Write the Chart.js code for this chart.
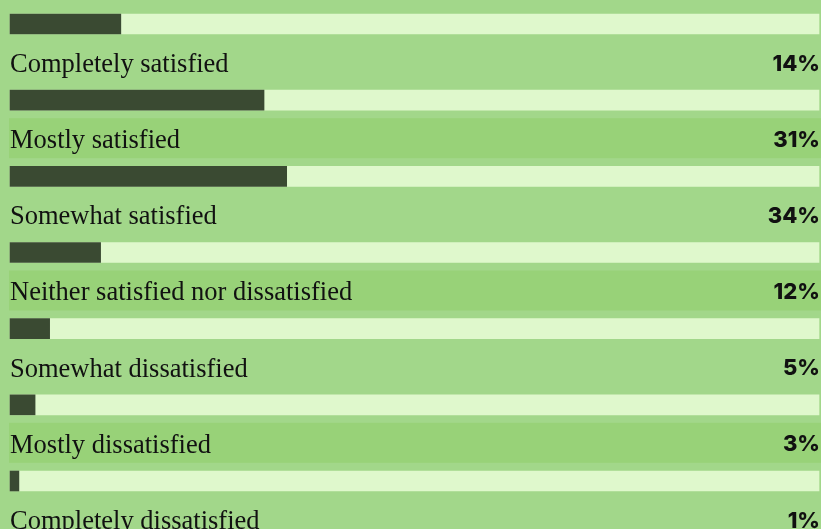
<!DOCTYPE html>
<html>
<head>
<meta charset="utf-8">
<script src="https://cdn.jsdelivr.net/npm/chart.js@4"></script>
<style>
  html, body { margin: 0; padding: 0; background: #a2d78a; }
  #wrap { width: 821px; height: 529px; }
</style>
</head>
<body>
<div id="wrap"><canvas id="satChart"></canvas></div>
<script>
const categories = [
  'Completely satisfied',
  'Mostly satisfied',
  'Somewhat satisfied',
  'Neither satisfied nor dissatisfied',
  'Somewhat dissatisfied',
  'Mostly dissatisfied',
  'Completely dissatisfied'
];
const shares = [13.7, 31.4, 34.2, 11.2, 4.9, 3.1, 1.1];
const shareLabels = ['14%', '31%', '34%', '12%', '5%', '3%', '1%'];
const fullTrack = [100, 100, 100, 100, 100, 100, 100];

// background + alternating label bands
const bandPlugin = {
  id: 'bands',
  beforeDraw(chart) {
    const c = chart.ctx;
    const yScale = chart.scales.y;
    c.save();
    c.fillStyle = '#a2d78a';
    c.fillRect(0, 0, chart.width, chart.height);
    c.fillStyle = '#98d278';
    categories.forEach((cat, i) => {
      if (i % 2 === 1) {
        const y = yScale.getPixelForValue(i);
        c.fillRect(9, y + 18, chart.width - 9, 40);
      }
    });
    c.restore();
  }
};

// category names and percentages under each bar
const textPlugin = {
  id: 'rowText',
  afterDatasetsDraw(chart) {
    const c = chart.ctx;
    const yScale = chart.scales.y;
    const area = chart.chartArea;
    c.save();
    c.textBaseline = 'middle';
    c.fillStyle = '#111';
    categories.forEach((cat, i) => {
      const y = yScale.getPixelForValue(i) + 40;
      c.font = '26.5px "Liberation Serif", serif';
      c.textAlign = 'left';
      c.fillText(cat, 10, y + 1);
      c.font = '800 22px Inter, sans-serif';
      c.textAlign = 'right';
      c.fillText(shareLabels[i], area.right + 1, y);
    });
    c.restore();
  }
};

const ctx = document.getElementById('satChart').getContext('2d');

const satChart = new Chart(ctx, {
  type: 'bar',
  data: {
    labels: categories,
    datasets: [
      {
        label: 'Share',
        data: shares,
        backgroundColor: '#3a4a32',
        barThickness: 20,
        grouped: false,
        clip: false,
        order: 0
      },
      {
        label: 'Track',
        data: fullTrack,
        backgroundColor: '#dff8cc',
        barThickness: 20,
        grouped: false,
        clip: false,
        order: 1
      }
    ]
  },
  options: {
    indexAxis: 'y',
    responsive: true,
    maintainAspectRatio: false,
    animation: false,
    layout: { padding: { left: 10, right: 2, top: 24, bottom: 48 } },
    plugins: {
      legend: { display: false },
      tooltip: { enabled: false }
    },
    scales: {
      x: { display: false, min: 0, max: 100 },
      y: { display: false, offset: false }
    }
  },
  plugins: [bandPlugin, textPlugin]
});
</script>
</body>
</html>
